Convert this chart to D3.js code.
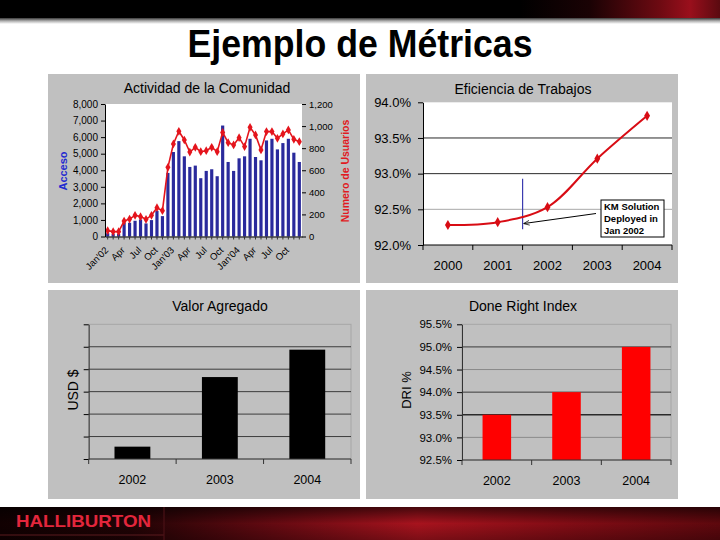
<!DOCTYPE html>
<html><head><meta charset="utf-8">
<script src="https://cdn.jsdelivr.net/npm/d3@7"></script>
<style>
body{margin:0;background:#fff}
svg{display:block}
text{font-family:"Liberation Sans",Arial,Helvetica,sans-serif}
</style>
</head><body>
<svg id="c" width="720" height="540"></svg>
<script>
// ---------------- DATA ----------------
const pageTitle = "Ejemplo de Métricas";
const brand = "HALLIBURTON";

// Chart 1: Actividad de la Comunidad
const months = ["Jan'02","Feb'02","Mar'02","Apr'02","May'02","Jun'02","Jul'02","Aug'02","Sep'02","Oct'02","Nov'02","Dec'02",
                "Jan'03","Feb'03","Mar'03","Apr'03","May'03","Jun'03","Jul'03","Aug'03","Sep'03","Oct'03","Nov'03","Dec'03",
                "Jan'04","Feb'04","Mar'04","Apr'04","May'04","Jun'04","Jul'04","Aug'04","Sep'04","Oct'04","Nov'04","Dec'04"];
const acceso = [200,150,150,830,830,950,1030,790,990,1550,1230,3840,
                5100,5760,4840,4200,4280,3520,3960,4060,3640,6700,4500,3960,
                4720,4840,5900,4800,4600,5800,5900,5260,5640,5900,5060,4500];
const usuarios = [53,44,44,140,158,192,180,156,192,261,234,627,
                  838,953,874,765,808,768,777,808,768,943,850,829,
                  895,814,989,920,784,950,950,889,929,965,880,859];
const monthTicks = ["Jan'02","Apr'02","Jul'02","Oct'02","Jan'03","Apr'03","Jul'03","Oct'03","Jan'04","Apr'04","Jul'04","Oct'04"];
const monthTickText = ["Jan'02","Apr","Jul","Oct","Jan'03","Apr","Jul","Oct","Jan'04","Apr","Jul","Oct"];
const accesoTicks = [0,1000,2000,3000,4000,5000,6000,7000,8000];
const usuariosTicks = [0,200,400,600,800,1000,1200];

// Chart 2: Eficiencia de Trabajos
const effYears = ["2000","2001","2002","2003","2004"];
const effValues = [92.28,92.32,92.53,93.21,93.81];
const effTicks = [92.0,92.5,93.0,93.5,94.0];
const kmNote = ["KM Solution","Deployed in","Jan 2002"];
const kmYear = "2002";
const kmSpan = [92.22,92.93];

// Chart 3: Valor Agregado
const valorYears = ["2002","2003","2004"];
const valorValues = [0.55,3.65,4.87];
const valorTicks = [0,1,2,3,4,5,6];

// Chart 4: Done Right Index
const driYears = ["2002","2003","2004"];
const driValues = [93.5,94.0,95.0];
const driTicks = [92.5,93.0,93.5,94.0,94.5,95.0,95.5];

// ---------------- DRAW ----------------
const svg = d3.select("#c");
const defs = svg.append("defs");

// header
const hg = defs.append("linearGradient").attr("id","hred").attr("x1",0).attr("x2",1).attr("y1",0).attr("y2",0);
[[0,"#000"],[0.35,"#1a0204"],[0.7,"#6e0a12"],[0.85,"#9a0f1c"],[1,"#5a0a10"]].forEach(s=>hg.append("stop").attr("offset",s[0]).attr("stop-color",s[1]));
const hs = defs.append("linearGradient").attr("id","hshadow").attr("x1",0).attr("x2",0).attr("y1",0).attr("y2",1);
[[0,"#3a3a3a"],[0.5,"#b0b0b0"],[1,"#ffffff"]].forEach(s=>hs.append("stop").attr("offset",s[0]).attr("stop-color",s[1]));
svg.append("rect").attr("x",0).attr("y",0).attr("width",720).attr("height",18).attr("fill","#000");
svg.append("rect").attr("x",520).attr("y",0).attr("width",200).attr("height",18).attr("fill","url(#hred)");
svg.append("rect").attr("x",0).attr("y",18).attr("width",720).attr("height",6).attr("fill","url(#hshadow)");

svg.append("text").attr("x",360).attr("y",57).attr("text-anchor","middle")
  .attr("font-size",38).attr("font-weight","bold").attr("fill","#000")
  .attr("textLength",345).attr("lengthAdjust","spacingAndGlyphs").text(pageTitle);

// footer
const fg = defs.append("linearGradient").attr("id","fred").attr("x1",0).attr("x2",1).attr("y1",0).attr("y2",0);
[[0,"#120001"],[0.18,"#220305"],[0.38,"#6a0a12"],[0.58,"#b0141f"],[0.78,"#8a0d16"],[1,"#62080e"]].forEach(s=>fg.append("stop").attr("offset",s[0]).attr("stop-color",s[1]));
const fv = defs.append("linearGradient").attr("id","fvert").attr("x1",0).attr("x2",0).attr("y1",0).attr("y2",1);
[[0,"#000",0.6],[0.5,"#000",0.05],[1,"#000",0.3]].forEach(s=>fv.append("stop").attr("offset",s[0]).attr("stop-color",s[1]).attr("stop-opacity",s[2]));
svg.append("rect").attr("x",0).attr("y",507).attr("width",720).attr("height",33).attr("fill","url(#fred)");
svg.append("rect").attr("x",0).attr("y",507).attr("width",720).attr("height",33).attr("fill","url(#fvert)");
svg.append("line").attr("x1",0).attr("x2",164).attr("y1",535).attr("y2",535).attr("stroke","#5a1a1e").attr("stroke-width",1);
svg.append("line").attr("x1",164).attr("x2",164).attr("y1",507).attr("y2",540).attr("stroke","#4a1216").attr("stroke-width",1.2);
svg.append("text").attr("x",16).attr("y",527).attr("font-size",17).attr("font-weight","bold").attr("fill","#e3263c")
  .attr("textLength",135).attr("lengthAdjust","spacingAndGlyphs").text(brand);

// panels
const panelFill = "#c0c0c0";
[[48,74],[366,74],[48,290],[366,290]].forEach(p=>{
  svg.append("rect").attr("x",p[0]).attr("y",p[1]).attr("width",312).attr("height",209).attr("fill",panelFill);
});

function styleAxis(g, fs){
  g.selectAll("path.domain").attr("stroke","#000");
  g.selectAll(".tick line").attr("stroke","#000");
  g.selectAll(".tick text").attr("fill","#000").attr("font-size",fs).attr("font-family",'"Liberation Sans",Arial,sans-serif');
}

// ---------- Chart 1 ----------
{
  const L=105, R=302, T=104, B=236.5;
  const x = d3.scaleBand().domain(months).range([L,R]).paddingInner(0.42).paddingOuter(0.2);
  const yL = d3.scaleLinear().domain([0,8000]).range([B,T]);
  const yR = d3.scaleLinear().domain([0,1200]).range([B,T]);
  svg.append("rect").attr("x",L).attr("y",T).attr("width",R-L).attr("height",B-T).attr("fill","#fff");
  svg.append("text").attr("x",207).attr("y",93).attr("text-anchor","middle").attr("font-size",14).attr("fill","#000").text("Actividad de la Comunidad");

  svg.append("g").selectAll("rect").data(months).join("rect")
    .attr("x",d=>x(d)).attr("width",x.bandwidth())
    .attr("y",(d,i)=>yL(acceso[i])).attr("height",(d,i)=>B-yL(acceso[i]))
    .attr("fill","#2a2a9c");

  const cx = d=>x(d)+x.bandwidth()/2;
  const line = d3.line().x((d,i)=>cx(months[i])).y(d=>yR(d));
  svg.append("path").datum(usuarios).attr("d",line).attr("fill","none").attr("stroke","#e4141c").attr("stroke-width",1.6);
  svg.append("g").selectAll("path").data(usuarios).join("path")
    .attr("transform",(d,i)=>`translate(${cx(months[i])},${yR(d)})`)
    .attr("d",d3.symbol(d3.symbolDiamond,22)).attr("fill","#e4141c");

  const gl = svg.append("g").attr("transform",`translate(${L},0)`)
    .call(d3.axisLeft(yL).tickValues(accesoTicks).tickFormat(d3.format(",")).tickSize(4).tickSizeOuter(0).tickPadding(3));
  styleAxis(gl,10);
  const gr = svg.append("g").attr("transform",`translate(${R},0)`)
    .call(d3.axisRight(yR).tickValues(usuariosTicks).tickFormat(d3.format(",")).tickSize(4).tickSizeOuter(0).tickPadding(3));
  styleAxis(gr,9.5);
  gr.selectAll("path.domain").attr("stroke","none");
  const gb = svg.append("g").attr("transform",`translate(0,${B})`)
    .call(d3.axisBottom(x).tickFormat("").tickSize(3).tickSizeOuter(0));
  styleAxis(gb,9);
  gb.selectAll(".tick line").attr("stroke","#333");

  svg.append("g").selectAll("text").data(monthTicks).join("text")
    .attr("transform",d=>`translate(${cx(d)-1},${B+12}) rotate(-45)`)
    .attr("text-anchor","end").attr("dy","0.35em").attr("font-size",9.5).attr("fill","#000")
    .text((d,i)=>monthTickText[i]);

  svg.append("text").attr("transform",`translate(67,171) rotate(-90)`).attr("text-anchor","middle")
    .attr("font-size",11).attr("font-weight","bold").attr("fill","#1f2ad0").text("Acceso");
  svg.append("text").attr("transform",`translate(349,171) rotate(-90)`).attr("text-anchor","middle")
    .attr("font-size",10.5).attr("font-weight","bold").attr("fill","#e01a22").text("Numero de Usuarios");
}

// ---------- Chart 2 ----------
{
  const L=423, R=672, T=102.3, B=245;
  const x = d3.scaleBand().domain(effYears).range([L,R]);
  const y = d3.scaleLinear().domain([92,94]).range([B,T]);
  svg.append("rect").attr("x",L).attr("y",T).attr("width",R-L).attr("height",B-T).attr("fill","#fff");
  svg.append("text").attr("x",523).attr("y",94).attr("text-anchor","middle").attr("font-size",14).attr("fill","#000").text("Eficiencia de Trabajos");

  const gridCol = {"92.5":"#a8a8a8","93":"#2a2a2a","93.5":"#2a2a2a"};
  svg.append("g").selectAll("line").data(effTicks.filter(v=>v>92 && v<94)).join("line")
    .attr("x1",L).attr("x2",R).attr("y1",d=>y(d)).attr("y2",d=>y(d))
    .attr("stroke",d=>gridCol[String(d)]||"#555").attr("stroke-width",1);

  const gl = svg.append("g").attr("transform",`translate(${L},0)`)
    .call(d3.axisLeft(y).tickValues(effTicks).tickFormat(d=>d3.format(".1f")(d)+"%").tickSize(5).tickSizeOuter(0).tickPadding(7));
  styleAxis(gl,13);
  // bottom axis
  svg.append("line").attr("x1",L).attr("x2",R).attr("y1",B).attr("y2",B).attr("stroke","#000");
  const edges = effYears.map(d=>x(d)).concat([R]);
  svg.append("g").selectAll("line").data(edges).join("line")
    .attr("x1",d=>d).attr("x2",d=>d).attr("y1",B).attr("y2",B+5).attr("stroke","#000");
  svg.append("g").selectAll("text").data(effYears).join("text")
    .attr("x",d=>x(d)+x.bandwidth()/2).attr("y",B+24.5).attr("text-anchor","middle").attr("font-size",13).attr("fill","#000").text(d=>d);

  // KM deployment marker
  const kx = x(kmYear);
  svg.append("line").attr("x1",kx).attr("x2",kx).attr("y1",y(kmSpan[1])).attr("y2",y(kmSpan[0])).attr("stroke","#3c3cb0").attr("stroke-width",1.2);

  const cx = d=>x(d)+x.bandwidth()/2;
  const line = d3.line().x((d,i)=>cx(effYears[i])).y(d=>y(d)).curve(d3.curveCatmullRom.alpha(0.5));
  svg.append("path").datum(effValues).attr("d",line).attr("fill","none").attr("stroke","#d80c14").attr("stroke-width",2);
  svg.append("g").selectAll("path").data(effValues).join("path")
    .attr("transform",(d,i)=>`translate(${cx(effYears[i])},${y(d)})`)
    .attr("d",d3.symbol(d3.symbolDiamond,30)).attr("fill","#d80c14");

  // annotation
  defs.append("marker").attr("id","arr").attr("viewBox","0 0 10 10").attr("refX",9).attr("refY",5)
    .attr("markerWidth",6).attr("markerHeight",6).attr("orient","auto")
    .append("path").attr("d","M0,1L10,5L0,9").attr("fill","none").attr("stroke","#000").attr("stroke-width",1.2);
  svg.append("line").attr("x1",596).attr("y1",213.5).attr("x2",kx+1.5).attr("y2",223.5)
    .attr("stroke","#000").attr("stroke-width",1).attr("marker-end","url(#arr)");
  svg.append("rect").attr("x",601).attr("y",200).attr("width",63).attr("height",37).attr("fill","#fff").attr("stroke","#000").attr("stroke-width",1);
  svg.append("g").selectAll("text").data(kmNote).join("text")
    .attr("x",604).attr("y",(d,i)=>210+i*11.8).attr("font-size",9.5).attr("font-weight","bold").attr("fill","#000").text(d=>d);
}

// ---------- Chart 3 ----------
{
  const L=88.7, R=351, T=324.3, B=459;
  const x = d3.scaleBand().domain(valorYears).range([L,R]).paddingInner(0.59).paddingOuter(0.295);
  const y = d3.scaleLinear().domain([0,6]).range([B,T]);
  svg.append("text").attr("x",220).attr("y",311).attr("text-anchor","middle").attr("font-size",14).attr("fill","#000").text("Valor Agregado");
  svg.append("rect").attr("x",L).attr("y",T).attr("width",R-L).attr("height",B-T).attr("fill","none").attr("stroke","#a6a6a6");
  svg.append("g").selectAll("line").data(valorTicks.filter(v=>v>0&&v<6)).join("line")
    .attr("x1",L).attr("x2",R).attr("y1",d=>y(d)).attr("y2",d=>y(d)).attr("stroke","#3c3c3c");
  svg.append("g").selectAll("rect").data(valorValues).join("rect")
    .attr("x",(d,i)=>x(valorYears[i])).attr("width",x.bandwidth())
    .attr("y",d=>y(d)).attr("height",d=>B-y(d)).attr("fill","#000");
  const gl = svg.append("g").attr("transform",`translate(${L},0)`)
    .call(d3.axisLeft(y).tickValues(valorTicks).tickFormat("").tickSize(5).tickSizeOuter(0));
  styleAxis(gl,10);
  gl.selectAll("path.domain").attr("stroke","#333");
  svg.append("line").attr("x1",L).attr("x2",R).attr("y1",B).attr("y2",B).attr("stroke","#333");
  const step = x.step();
  const edges = [L].concat(valorYears.slice(1).map(d=>x(d)-x.paddingInner()*step/2)).concat([R]);
  svg.append("g").selectAll("line").data(edges).join("line")
    .attr("x1",d=>d).attr("x2",d=>d).attr("y1",B).attr("y2",B+5).attr("stroke","#333");
  svg.append("g").selectAll("text").data(valorYears).join("text")
    .attr("x",d=>x(d)+x.bandwidth()/2).attr("y",B+24.5).attr("text-anchor","middle").attr("font-size",12.5).attr("fill","#000").text(d=>d);
  svg.append("text").attr("transform",`translate(78,390) rotate(-90)`).attr("text-anchor","middle").attr("font-size",14).attr("fill","#000").text("USD $");
}

// ---------- Chart 4 ----------
{
  const L=462, R=671, T=324.3, B=460;
  const x = d3.scaleBand().domain(driYears).range([L,R]).paddingInner(0.59).paddingOuter(0.295);
  const y = d3.scaleLinear().domain([92.5,95.5]).range([B,T]);
  svg.append("text").attr("x",523).attr("y",311).attr("text-anchor","middle").attr("font-size",14).attr("fill","#000").text("Done Right Index");
  svg.append("rect").attr("x",L).attr("y",T).attr("width",R-L).attr("height",B-T).attr("fill","none").attr("stroke","#a6a6a6");
  const gridCol = {"93":"#8a8a8a","93.5":"#2a2a2a","94":"#3a3a3a","94.5":"#8a8a8a","95":"#3a3a3a"};
  svg.append("g").selectAll("line").data(driTicks.filter(v=>v>92.5&&v<95.5)).join("line")
    .attr("x1",L).attr("x2",R).attr("y1",d=>y(d)).attr("y2",d=>y(d)).attr("stroke",d=>gridCol[String(d)]||"#555")
    .attr("stroke-width",d=>d===93.5?1.5:1);
  svg.append("g").selectAll("rect").data(driValues).join("rect")
    .attr("x",(d,i)=>x(driYears[i])).attr("width",x.bandwidth())
    .attr("y",d=>y(d)).attr("height",d=>B-y(d)).attr("fill","#ff0000");
  const gl = svg.append("g").attr("transform",`translate(${L},0)`)
    .call(d3.axisLeft(y).tickValues(driTicks).tickFormat(d=>d3.format(".1f")(d)+"%").tickSize(5).tickSizeOuter(0).tickPadding(5));
  styleAxis(gl,11.5);
  gl.selectAll("path.domain").attr("stroke","#333");
  svg.append("line").attr("x1",L).attr("x2",R).attr("y1",B).attr("y2",B).attr("stroke","#333");
  const step = x.step();
  const edges = [L].concat(driYears.slice(1).map(d=>x(d)-x.paddingInner()*step/2)).concat([R]);
  svg.append("g").selectAll("line").data(edges).join("line")
    .attr("x1",d=>d).attr("x2",d=>d).attr("y1",B).attr("y2",B+5).attr("stroke","#333");
  svg.append("g").selectAll("text").data(driYears).join("text")
    .attr("x",d=>x(d)+x.bandwidth()/2).attr("y",B+25).attr("text-anchor","middle").attr("font-size",12.5).attr("fill","#000").text(d=>d);
  svg.append("text").attr("transform",`translate(411,390) rotate(-90)`).attr("text-anchor","middle").attr("font-size",13).attr("fill","#000").text("DRI %");
}
</script>
</body></html>
